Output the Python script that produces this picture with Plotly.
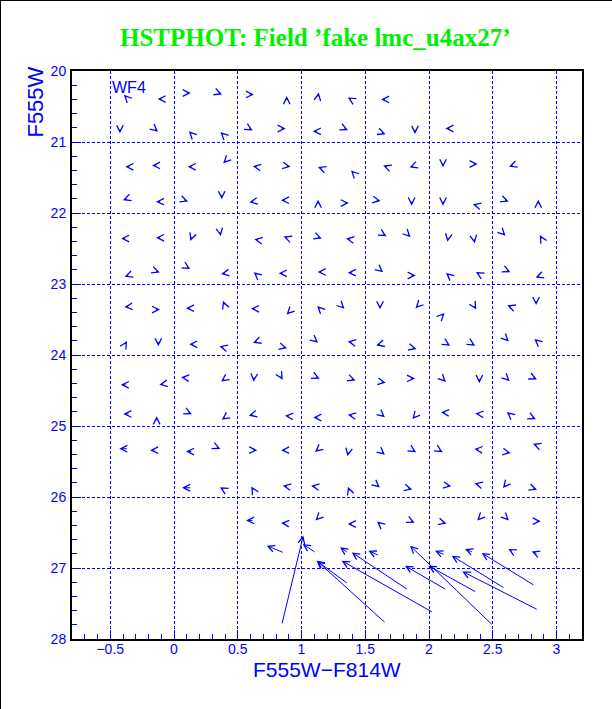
import math
import plotly.graph_objects as go

# ---------------- data ----------------
# small displacement vectors: recovered position (colour, magnitude) and direction
# (degrees; 0 = redder, 90 = brighter, 180 = bluer, 270 = fainter)
sm_color = [
    -0.371, -0.097, 0.10, 0.348, 0.596, 0.884, 1.13, 1.39, 1.655,
    -0.424, -0.149, 0.139, 0.387, 0.59, 0.845, 1.12, 1.336, 1.63, 1.89, 2.16,
    -0.35, -0.141, 0.139, 0.408, 0.649, 0.884, 1.158, 1.41, 1.67, 1.877, 2.11, 2.35, 2.657,
    -0.371, -0.11, 0.081, 0.374, 0.622, 0.87, 1.13, 1.34, 1.59, 1.864, 2.11, 2.374, 2.596, 2.857,
    -0.384, -0.11, 0.139, 0.361, 0.661, 0.889, 1.13, 1.38, 1.64, 1.833, 2.15, 2.353, 2.578, 2.884,
    -0.358, -0.141, 0.10, 0.40, 0.649, 0.853, 1.158, 1.394, 1.616, 1.864, 2.157, 2.395, 2.61, 2.865,
    -0.358, -0.141, 0.125, 0.395, 0.635, 0.905, 1.145, 1.315, 1.616, 1.916, 2.10, 2.355, 2.643, 2.84,
    -0.384, -0.123, 0.151, 0.387, 0.649, 0.857, 1.106, 1.394, 1.616, 1.872, 2.139, 2.335, 2.604, 2.85,
    -0.084, 0.086, 0.395, 0.627, 0.837, 1.114, 1.394, 1.63, 1.859, 2.11, 2.395, 2.61, 2.818,
    -0.136, 0.112, 0.40, 0.617, 0.902, 1.124, 1.394, 1.63, 1.89, 2.125, 2.395, 2.635, 2.81,
    0.335, 0.622, 0.871, 1.13, 1.367, 1.63, 1.872, 2.08, 2.387, 2.61, 2.845,
    0.387, 0.622, 0.884, 1.106, 1.375, 1.59, 1.838, 2.144, 2.387, 2.60, 2.818,
    0.871, 1.132, 1.394, 1.616, 1.859, 2.107, 2.40, 2.604, 2.845,
]
sm_mag = [
    20.376, 20.395, 20.31, 20.31, 20.33, 20.41, 20.36, 20.40, 20.40,
    20.82, 20.82, 20.89, 20.90, 20.81, 20.81, 20.85, 20.81, 20.87, 20.83, 20.81,
    21.35, 21.33, 21.35, 21.26, 21.35, 21.34, 21.37, 21.44, 21.35, 21.34, 21.30, 21.31, 21.33,
    21.80, 21.84, 21.82, 21.75, 21.84, 21.82, 21.87, 21.86, 21.82, 21.84, 21.84, 21.89, 21.82, 21.87,
    22.36, 22.35, 22.34, 22.27, 22.38, 22.35, 22.34, 22.37, 22.30, 22.30, 22.35, 22.37, 22.28, 22.36,
    22.88, 22.82, 22.76, 22.85, 22.87, 22.85, 22.83, 22.84, 22.80, 22.88, 22.88, 22.86, 22.81, 22.89,
    23.32, 23.36, 23.34, 23.29, 23.35, 23.39, 23.35, 23.31, 23.30, 23.30, 23.45, 23.31, 23.32, 23.24,
    23.85, 23.82, 23.85, 23.89, 23.81, 23.89, 23.79, 23.82, 23.85, 23.90, 23.84, 23.84, 23.77, 23.81,
    24.41, 24.32, 24.34, 24.32, 24.30, 24.31, 24.34, 24.38, 24.33, 24.34, 24.34, 24.33, 24.32,
    24.92, 24.81, 24.88, 24.84, 24.86, 24.88, 24.85, 24.84, 24.86, 24.81, 24.83, 24.84, 24.88,
    25.30, 25.34, 25.34, 25.33, 25.37, 25.37, 25.34, 25.34, 25.33, 25.37, 25.27,
    25.89, 25.90, 25.85, 25.85, 25.91, 25.83, 25.88, 25.84, 25.82, 25.83, 25.88,
    26.37, 26.29, 26.38, 26.38, 26.34, 26.36, 26.29, 26.29, 26.34,
]
sm_angle = [
    135, 180, 0, 340, 0, 90, 80, 150, 180,
    270, 320, 135, 135, 330, 0, 180, 335, 340, 270, 180,
    180, 180, 180, 225, 170, 350, 160, 135, 160, 200, 270, 0, 200,
    200, 180, 340, 270, 190, 180, 90, 0, 350, 270, 270, 165, 340, 90,
    180, 180, 250, 280, 170, 160, 340, 170, 330, 315, 260, 280, 315, 120,
    200, 340, 330, 190, 140, 180, 180, 180, 320, 0, 140, 150, 335, 200,
    185, 0, 180, 110, 180, 225, 135, 315, 270, 225, 45, 300, 160, 270,
    60, 270, 180, 165, 200, 345, 320, 170, 195, 345, 330, 330, 315, 140,
    190, 175, 215, 265, 300, 335, 340, 350, 0, 315, 270, 315, 335,
    90, 335, 215, 195, 175, 180, 170, 320, 230, 175, 175, 140, 335,
    335, 0, 180, 220, 260, 320, 330, 330, 175, 350, 160,
    150, 120, 170, 170, 110, 320, 345, 350, 165, 230, 340,
    175, 225, 180, 140, 335, 345, 225, 315, 0,
]

# longer vectors: input (tail) -> recovered (head)
lg_color_in = [0.845, 1.114, 0.865, 1.367, 1.610, 2.125, 2.347, 2.661, 2.855,
               1.367, 1.663, 2.034, 1.838, 2.139, 2.504, 2.374, 2.596, 2.857, 2.831,
               -0.366, -0.345, -0.358, -0.141, 0.147, 0.141, 0.627]
lg_mag_in = [27.80, 26.788, 26.788, 26.788, 26.826, 26.817, 26.78, 26.77, 26.80,
             27.226, 27.781, 27.630, 27.310, 27.310, 27.814, 27.344, 27.288, 27.592, 27.25,
             24.42, 24.83, 25.32, 25.34, 25.36, 25.87, 26.33]
lg_color_out = [1.014, 1.009, 0.727, 1.302, 1.524, 2.047, 2.282, 2.622, 2.805,
                1.119, 1.119, 1.315, 1.394, 1.812, 1.851, 1.995, 2.178, 2.261, 2.413,
                -0.418, -0.398, -0.429, -0.188, 0.094, 0.063, 0.565]
lg_mag_out = [26.544, 26.661, 26.685, 26.709, 26.756, 26.756, 26.732, 26.732, 26.766,
              26.897, 26.897, 26.897, 26.780, 26.968, 26.685, 26.968, 26.826, 27.048, 26.789,
              24.42, 24.83, 25.32, 25.34, 25.36, 25.87, 26.33]

x_tickvals = [-0.5, 0, 0.5, 1, 1.5, 2, 2.5, 3]
y_tickvals = [20, 21, 22, 23, 24, 25, 26, 27, 28]

title_text = "HSTPHOT: Field \u2019fake lmc_u4ax27\u2019"
x_title = "F555W\u2212F814W"
y_title = "F555W"
chip_label = "WF4"

# ---------------- layout constants ----------------
W, H = 612, 709
ML, MR, MT, MB = 72, 30, 71, 70
XR = [-0.8, 3.2]
YR = [28, 20]
BLUE = "#0000ff"
GREEN = "#00f000"
PX_X = (W - ML - MR) / (XR[1] - XR[0])
PX_Y = (H - MT - MB) / (YR[0] - YR[1])

fig = go.Figure()
fig.add_trace(go.Scatter(x=sm_color, y=sm_mag, mode="markers",
                         marker=dict(opacity=0), hoverinfo="skip", showlegend=False))

arrow_style = dict(showarrow=True, arrowhead=5, arrowsize=1.3, arrowwidth=1,
                   arrowcolor=BLUE, standoff=0, text="", font=dict(size=1),
                   xref="x", yref="y", axref="x", ayref="y")

annotations = []
# small vectors: glyph of fixed pixel length centred on the recovered position
HEAD_FWD, TAIL_BACK = 4.0, 1.5
for c, m, a in zip(sm_color, sm_mag, sm_angle):
    ca, sa = math.cos(math.radians(a)), math.sin(math.radians(a))
    annotations.append(dict(
        x=c + HEAD_FWD * ca / PX_X, y=m - HEAD_FWD * sa / PX_Y,
        ax=c - TAIL_BACK * ca / PX_X, ay=m + TAIL_BACK * sa / PX_Y,
        **arrow_style))
for c0, m0, c1, m1 in zip(lg_color_in, lg_mag_in, lg_color_out, lg_mag_out):
    annotations.append(dict(x=c1, y=m1, ax=c0, ay=m0, **arrow_style))

annotations.append(dict(text=chip_label, x=-0.5, y=20.23, xref="x", yref="y",
                        xanchor="left", yanchor="middle", showarrow=False,
                        font=dict(family="Liberation Sans", size=16, color=BLUE)))
annotations.append(dict(text=title_text, x=0.4765, y=1.0595, xref="paper", yref="paper",
                        xanchor="center", yanchor="middle", showarrow=False,
                        font=dict(family="Liberation Serif", size=25, color=GREEN, weight="bold")))
annotations.append(dict(text=x_title, x=0.5, y=-0.053, xref="paper", yref="paper",
                        xanchor="center", yanchor="middle", showarrow=False,
                        font=dict(family="Liberation Sans", size=21, color=BLUE)))
annotations.append(dict(text=y_title, x=-0.0725, y=0.9445, xref="paper", yref="paper",
                        xanchor="center", yanchor="middle", showarrow=False, textangle=-90,
                        font=dict(family="Liberation Sans", size=22, color=BLUE)))

# outer border of the page (left and top edges)
PW, PH = W - ML - MR, H - MT - MB
shapes = [
    dict(type="line", xref="paper", yref="paper", x0=-ML / PW, x1=-ML / PW,
         y0=-MB / PH, y1=1 + MT / PH, line=dict(color="black", width=2)),
    dict(type="line", xref="paper", yref="paper", x0=-ML / PW, x1=1 + MR / PW,
         y0=1 + MT / PH, y1=1 + MT / PH, line=dict(color="black", width=2)),
]

axis_common = dict(
    ticks="inside", ticklen=9, tickwidth=1, tickcolor=BLUE,
    showgrid=True, gridcolor=BLUE, gridwidth=1, griddash="3px,2px",
    showline=True, linecolor="black", linewidth=2, mirror=True,
    zeroline=False, tickfont=dict(family="Liberation Sans", size=14, color=BLUE),
)

fig.update_layout(
    width=W, height=H, margin=dict(l=ML, r=MR, t=MT, b=MB),
    paper_bgcolor="white", plot_bgcolor="white", showlegend=False,
    xaxis=dict(range=XR, tickmode="array", tickvals=x_tickvals, ticklabelstandoff=-4,
               minor=dict(dtick=0.1, tick0=0, ticks="inside", ticklen=5, tickcolor=BLUE, showgrid=False),
               **axis_common),
    yaxis=dict(range=YR, tickmode="array", tickvals=y_tickvals, ticklabelstandoff=1,
               minor=dict(dtick=0.2, tick0=20, ticks="inside", ticklen=5, tickcolor=BLUE, showgrid=False),
               **axis_common),
    annotations=annotations,
    shapes=shapes,
)

fig.write_html("out.html", config={"displayModeBar": False},
               post_script="document.body.style.margin='0px';")
